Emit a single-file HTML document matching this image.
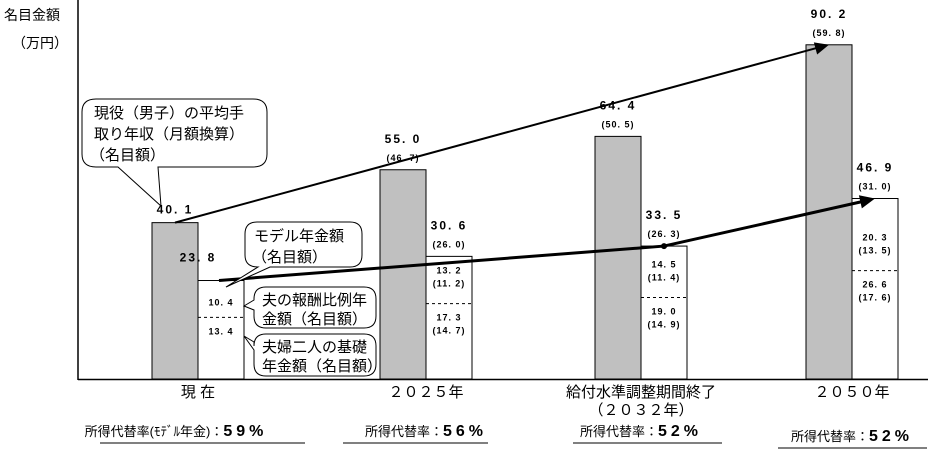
<!DOCTYPE html>
<html><head><meta charset="utf-8"><style>
body{margin:0;background:#fff;}
svg{display:block;font-family:"Liberation Sans","Noto Sans CJK JP",sans-serif;}
.v{font-size:12px;font-weight:bold;text-anchor:middle;letter-spacing:2px;}
.s{font-size:9px;font-weight:bold;text-anchor:middle;letter-spacing:1px;}
.c{font-size:15px;}
</style></head><body>
<svg id="chart" width="931" height="451" viewBox="0 0 931 451">
<text x="4" y="20" font-size="14">名目金額</text>
<text x="12" y="48" font-size="14">（万円）</text>
<line x1="78" y1="0" x2="78" y2="380" stroke="#000" stroke-width="1.5"/>
<line x1="78" y1="379.5" x2="928" y2="379.5" stroke="#000" stroke-width="1.5"/>
<g id="bars"></g>
<g id="lines"></g>
<g id="labels"></g>
<g fill="#fff" stroke="#000" stroke-width="1">
<path d="M96,99 H253 Q267,99 267,112 V154 Q267,167 253,167 H158 L161,206 L118,167 H96 Q82,167 82,154 V112 Q82,99 96,99 Z"/>
</g>
<text class="c" x="94" y="118">現役（男子）の平均手</text>
<text class="c" x="94" y="139">取り年収（月額換算）</text>
<text class="c" x="90" y="160">（名目額）</text>
<g fill="#fff" stroke="#000" stroke-width="1">
<path d="M257,222 H350 Q362,222 362,234 V255 Q362,267 350,267 H270 L226,287 L258,267 Q245,267 245,255 V234 Q245,222 257,222 Z"/>
</g>
<text class="c" x="254" y="241">モデル年金額</text>
<text class="c" x="252" y="262">（名目額）</text>
<g fill="#fff" stroke="#000" stroke-width="1">
<path d="M266,287 H364 Q376,287 376,299 V316 Q376,328 364,328 H266 Q254,328 254,316 V310 L244,306 L254,300 V299 Q254,287 266,287 Z"/>
</g>
<text class="c" x="262" y="305">夫の報酬比例年</text>
<text class="c" x="262" y="324">金額（名目額）</text>
<g fill="#fff" stroke="#000" stroke-width="1">
<path d="M266,334 H364 Q376,334 376,346 V364 Q376,376 364,376 H266 Q254,376 254,364 V350 L244,336 L254,342 V346 Q254,334 266,334 Z"/>
</g>
<text class="c" x="262" y="352">夫婦二人の基礎</text>
<text class="c" x="262" y="371">年金額（名目額）</text>
<g id="cats"></g>
</svg>
<script>
const categories=["現 在","２０２５年","給付水準調整期間終了","２０５０年"];
const wageValues=[40.1,55.0,64.4,90.2];
const wageReal=[null,"(46. 7)","(50. 5)","(59. 8)"];
const pensionValues=[23.8,30.6,33.5,46.9];
const pensionReal=[null,"(26. 0)","(26. 3)","(31. 0)"];
const earningsPart=[10.4,13.2,14.5,20.3];
const earningsReal=[null,"(11. 2)","(11. 4)","(13. 5)"];
const basicPart=[13.4,17.3,19.0,26.6];
const basicReal=[null,"(14. 7)","(14. 9)","(17. 6)"];
const replacementLabels=["所得代替率(ﾓﾃﾞﾙ年金)：","所得代替率：","所得代替率：","所得代替率："];
const replacementRates=["59%","56%","52%","52%"];
const NS="http://www.w3.org/2000/svg";
const gx=[152,380,595,806], bw=46, base=379;
const h=v=>14+3.55*v;
const y=v=>base-h(v);
function mk(tag,attrs,parent,text){const e=document.createElementNS(NS,tag);for(const a in attrs)e.setAttribute(a,attrs[a]);if(text!=null)e.textContent=text;parent.appendChild(e);return e;}
const fmt=v=>v.toFixed(1).replace(".",". ");
const bars=document.getElementById("bars"),labels=document.getElementById("labels"),lines=document.getElementById("lines"),cats=document.getElementById("cats");
categories.forEach((c,i)=>{
 const x=gx[i];
 let r=mk("rect",{x:x,y:y(wageValues[i]),width:bw,height:h(wageValues[i]),fill:"#c0c0c0",stroke:"#000"},bars);
 
 
 let w=mk("rect",{x:x+bw,y:y(pensionValues[i]),width:bw,height:h(pensionValues[i]),fill:"#fff",stroke:"#000"},bars);
 
 
 let d=mk("line",{x1:x+bw,x2:x+2*bw,y1:y(basicPart[i]),y2:y(basicPart[i]),stroke:"#000","stroke-dasharray":"3,3"},bars);
 
 
 const cx=x+bw/2, px=x+1.5*bw;
 const wy=y(wageValues[i]);
 mk("text",{x:cx,y:wageReal[i]?wy-27:wy-9,class:"v"},labels,fmt(wageValues[i]));
 if(wageReal[i])mk("text",{x:cx,y:wy-9,class:"s"},labels,wageReal[i]);
 const py=y(pensionValues[i]);
 mk("text",{x:i==0?px-23:px,y:pensionReal[i]?py-27:py-19,class:"v"},labels,fmt(pensionValues[i]));
 if(pensionReal[i])mk("text",{x:px,y:py-9,class:"s"},labels,pensionReal[i]);
 const ey=y(basicPart[i]);
 mk("text",{x:px,y:ey-(earningsReal[i]?30:12),class:"s"},labels,fmt(earningsPart[i]));
 if(earningsReal[i])mk("text",{x:px,y:ey-17,class:"s"},labels,earningsReal[i]);
 mk("text",{x:px,y:ey+17,class:"s"},labels,fmt(basicPart[i]));
 if(basicReal[i])mk("text",{x:px,y:ey+30,class:"s"},labels,basicReal[i]);
 const t=mk("text",{x:x+bw,y:397,"font-size":"15","text-anchor":"middle"},cats,c);
 
 
 if(i==2)mk("text",{x:x+bw,y:415,"font-size":"15","text-anchor":"middle"},cats,"（２０３２年）");
 const ry=i==3?441:436;
 const rt=mk("text",{x:x+bw-(i==0?22:0),y:ry,"font-size":"13","text-anchor":"middle"},cats);
 
 
 mk("tspan",{},rt,replacementLabels[i]);
 mk("tspan",{"font-weight":"bold","font-size":"16","letter-spacing":"4"},rt,replacementRates[i]);
 const bb=i==0?[100,305]:[[343,488],[573,722],[778,927]][i-1];
 mk("line",{x1:bb[0],x2:bb[1],y1:ry+7,y2:ry+7,stroke:"#000"},cats);
});
const ah=(x1,y1,x2,y2,sz)=>{const a=Math.atan2(y2-y1,x2-x1);return `${x2},${y2} ${x2-sz*Math.cos(a)+sz*0.45*Math.sin(a)},${y2-sz*Math.sin(a)-sz*0.45*Math.cos(a)} ${x2-sz*Math.cos(a)-sz*0.45*Math.sin(a)},${y2-sz*Math.sin(a)+sz*0.45*Math.cos(a)}`;};
const wx1=gx[0]+bw/2, wy1=y(wageValues[0]), wx2=gx[3]+bw/2, wy2=y(wageValues[3]);
let l1=mk("line",{x1:wx1,y1:wy1,x2:wx2-8,y2:wy2+2,stroke:"#000","stroke-width":2},lines);


mk("polygon",{points:ah(wx1,wy1,wx2,wy2,14)},lines);
const ax=[gx[0]+bw*1.5-2,gx[2]+bw*1.5,gx[3]+bw*1.5];
const ay=[y(pensionValues[0]),y(pensionValues[2]),y(pensionValues[3])];
let l2=mk("polyline",{points:`${ax[0]},${ay[0]} ${ax[1]},${ay[1]} ${ax[2]-8},${ay[2]+2}`,fill:"none",stroke:"#000","stroke-width":3},lines);


mk("circle",{cx:ax[1],cy:ay[1],r:3},lines);
mk("polygon",{points:ah(ax[1],ay[1],ax[2],ay[2],15)},lines);
</script>
</body></html>
